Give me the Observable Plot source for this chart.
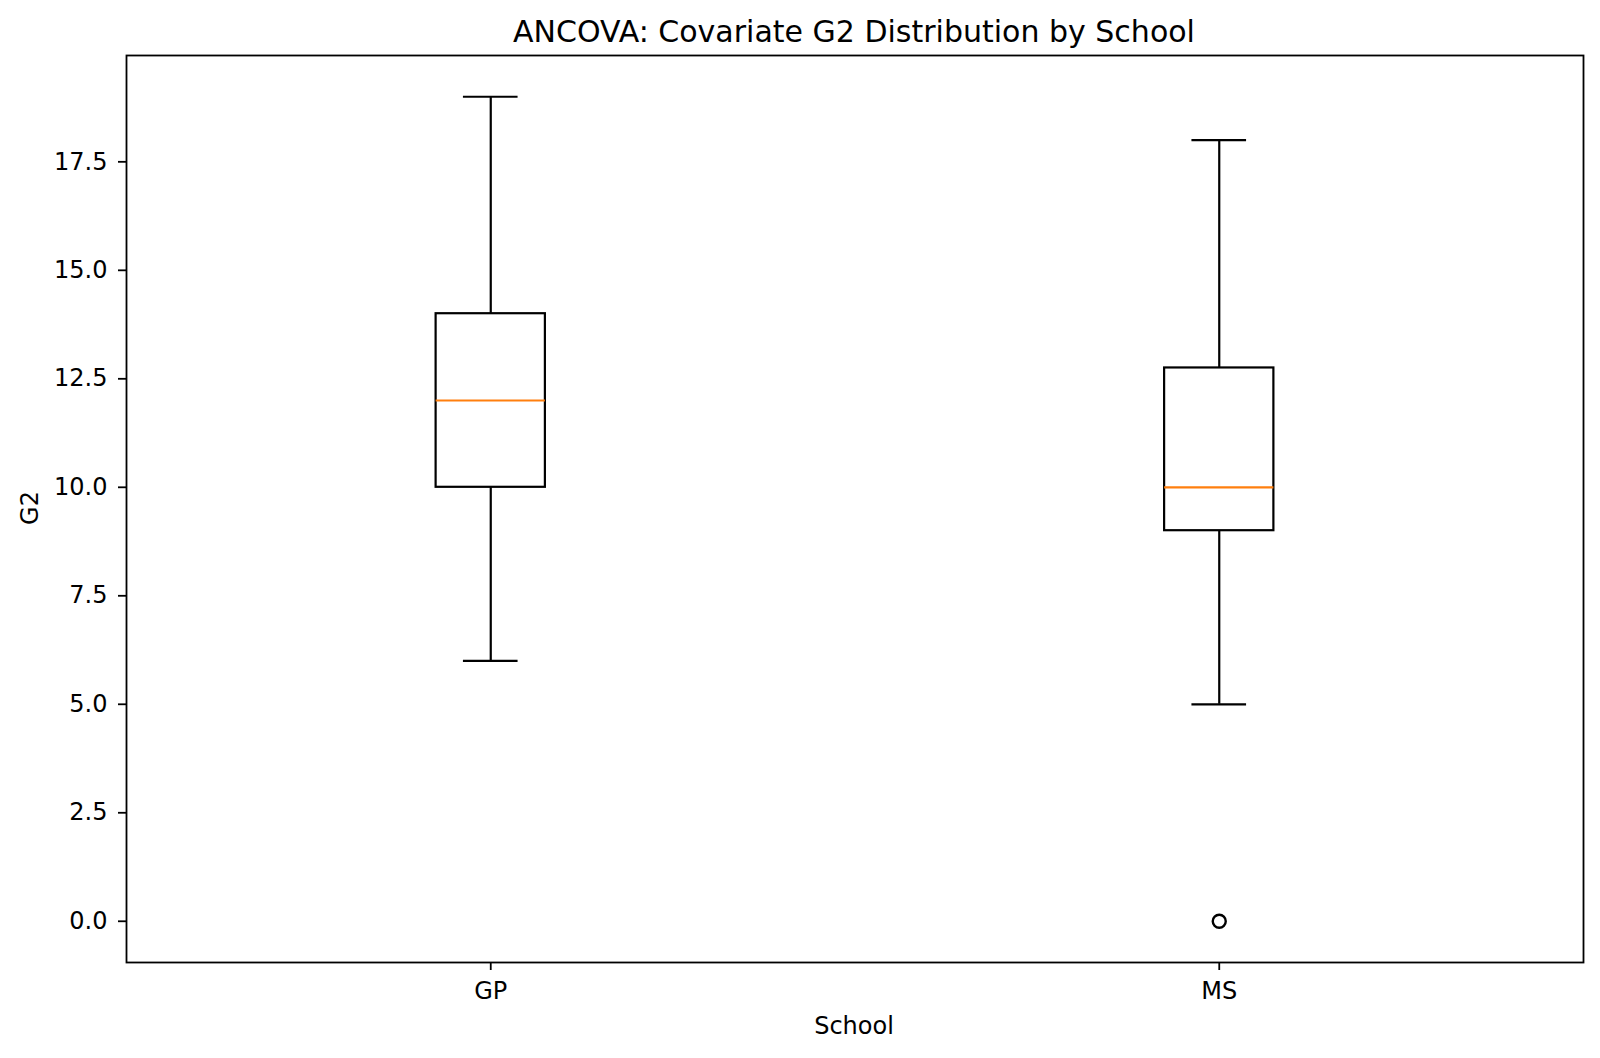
<!DOCTYPE html>
<html>
<head>
<meta charset="utf-8">
<script src="https://cdn.jsdelivr.net/npm/d3@7"></script>
<script src="https://cdn.jsdelivr.net/npm/@observablehq/plot@0.6"></script>
<style>
  body { margin: 0; background: #fff; font-family: "DejaVu Sans", sans-serif; color: #000; }
  #wrap { position: relative; width: 1600px; height: 1058px; }
  #wrap svg { position: absolute; left: 0; top: 0; }
  .lbl { position: absolute; white-space: nowrap; line-height: 1; color: #000; }
  #title { left: 854px; top: 32px; font-size: 30px; transform: translate(-50%, -50%); }
  #xlabel { left: 854px; top: 1026px; font-size: 24px; transform: translate(-50%, -50%); }
  #ylabel { left: 30px; top: 508px; font-size: 24px; transform: translate(-50%, -50%) rotate(-90deg); }
</style>
</head>
<body>
<div id="wrap">
  <div class="lbl" id="title">ANCOVA: Covariate G2 Distribution by School</div>
  <div class="lbl" id="xlabel">School</div>
  <div class="lbl" id="ylabel">G2</div>
</div>
<script>
// Box-plot summary of G2 per school
const schools = ["GP", "MS"];
const whiskerLow = [6, 5];
const q1 = [10, 9];
const median = [12, 10];
const q3 = [14, 12.75];
const whiskerHigh = [19, 18];
const outlierSchool = ["MS"];
const outlierValue = [0];
const yTicks = [0, 2.5, 5, 7.5, 10, 12.5, 15, 17.5];

// boxes sit at positions 1, 2, ... on a linear x scale
const boxHalf = 0.075;
const capHalf = 0.0375;
const rows = schools.map((s, i) => ({
  school: s, pos: i + 1,
  low: whiskerLow[i], q1: q1[i], med: median[i], q3: q3[i], high: whiskerHigh[i]
}));
const outliers = outlierSchool.map((s, i) => ({ pos: schools.indexOf(s) + 1, value: outlierValue[i] }));

const lw = 2.2;
const chart = Plot.plot({
  width: 1600,
  height: 1058,
  marginLeft: 126,
  marginRight: 17,
  marginTop: 55,
  marginBottom: 96,
  style: { background: "transparent", color: "#000", fontFamily: "DejaVu Sans, sans-serif" },
  x: { domain: [0.5, schools.length + 0.5] },
  y: { domain: [-0.95, 19.95] },
  marks: [
    // whiskers
    Plot.ruleX(rows, { x: "pos", y1: "q3", y2: "high", stroke: "#000", strokeWidth: lw }),
    Plot.ruleX(rows, { x: "pos", y1: "low", y2: "q1", stroke: "#000", strokeWidth: lw }),
    // caps
    Plot.ruleY(rows, { y: "high", x1: d => d.pos - capHalf, x2: d => d.pos + capHalf, stroke: "#000", strokeWidth: lw }),
    Plot.ruleY(rows, { y: "low", x1: d => d.pos - capHalf, x2: d => d.pos + capHalf, stroke: "#000", strokeWidth: lw }),
    // boxes
    Plot.rect(rows, { x1: d => d.pos - boxHalf, x2: d => d.pos + boxHalf, y1: "q1", y2: "q3", fill: "none", stroke: "#000", strokeWidth: lw }),
    // medians
    Plot.ruleY(rows, { y: "med", x1: d => d.pos - boxHalf, x2: d => d.pos + boxHalf, stroke: "#ff7f0e", strokeWidth: lw }),
    // outliers
    Plot.dot(outliers, { x: "pos", y: "value", r: 6.5, fill: "none", stroke: "#000", strokeWidth: 2.4 }),
    Plot.frame({ stroke: "#000", strokeWidth: 1.8 }),
    Plot.axisY({
      ticks: yTicks, tickFormat: d => d.toFixed(1), tickSize: 8, tickPadding: 11,
      fontSize: 24, strokeWidth: 1.8, label: null
    }),
    Plot.axisX({
      ticks: schools.map((s, i) => i + 1), tickFormat: d => schools[d - 1], tickSize: 8, tickPadding: 11,
      fontSize: 24, strokeWidth: 1.8, label: null
    })
  ]
});
document.getElementById("wrap").prepend(chart);
</script>
</body>
</html>
